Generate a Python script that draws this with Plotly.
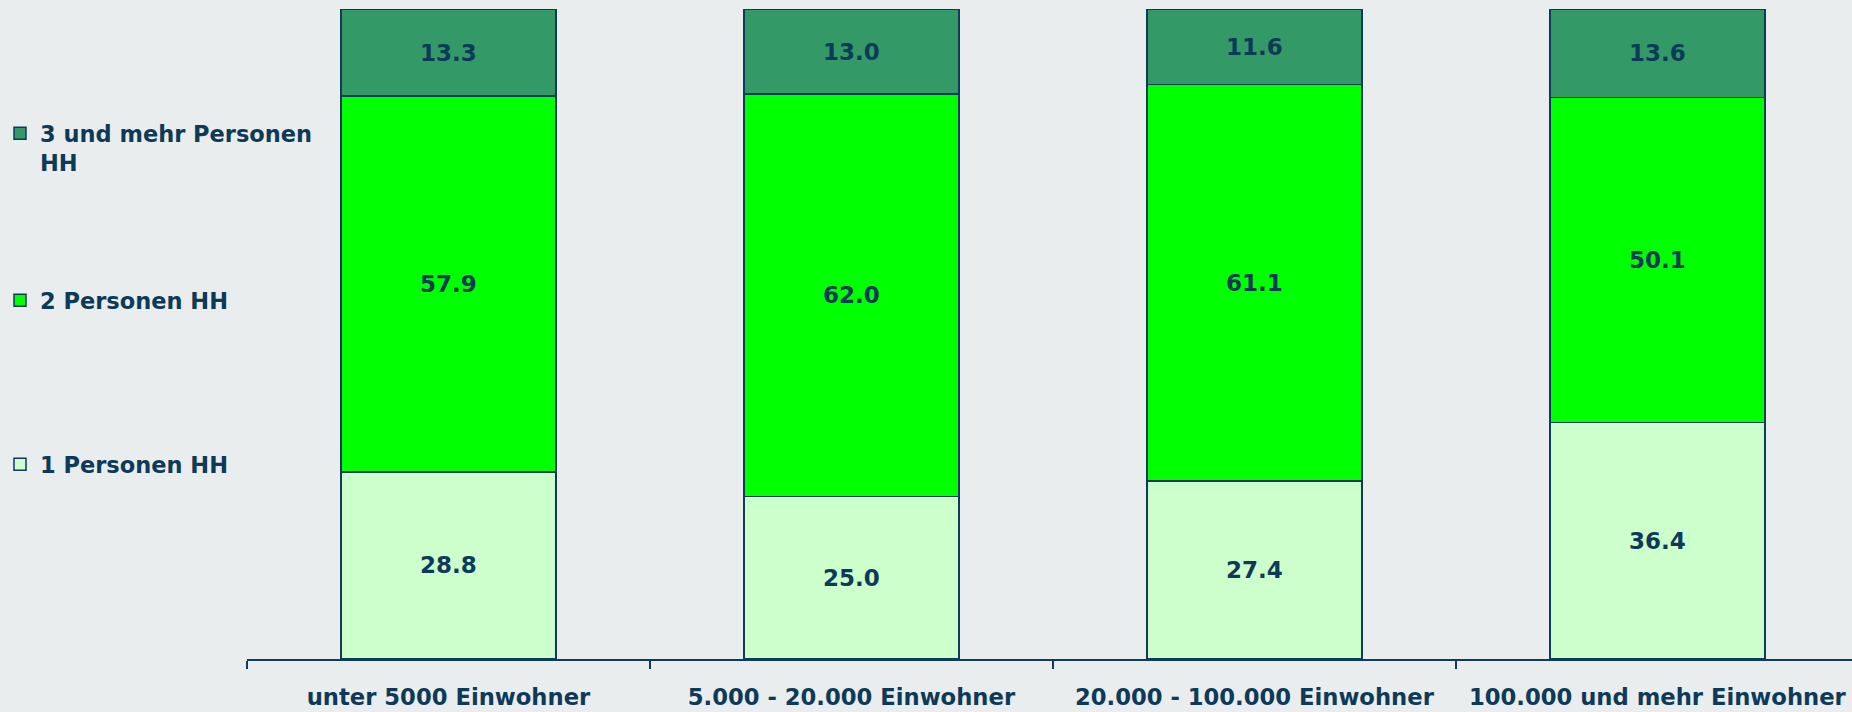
import plotly.graph_objects as go

categories = ["unter 5000 Einwohner", "5.000 - 20.000 Einwohner",
              "20.000 - 100.000 Einwohner", "100.000 und mehr Einwohner"]
one_person = [28.8, 25.0, 27.4, 36.4]
two_person = [57.9, 62.0, 61.1, 50.1]
three_plus = [13.3, 13.0, 11.6, 13.6]

series = [
    ("1 Personen HH", one_person, "#CCFFCC", "legend3"),
    ("2 Personen HH", two_person, "#00FF00", "legend2"),
    ("3 und mehr Personen<br>HH", three_plus, "#339966", "legend"),
]

TEXT = "#0D3A58"
OUTLINE = "#0F3B5A"
BG = "#E9EDEE"
FONT = "DejaVu Sans"

fig = go.Figure()
for name, vals, col, leg in series:
    fig.add_trace(go.Bar(
        x=categories, y=vals, name=name, legend=leg,
        marker=dict(color=col, line=dict(color=OUTLINE, width=1.5)),
        text=[f"{v:.1f}" for v in vals], textposition="inside",
        insidetextanchor="middle", textangle=0,
        textfont=dict(family=FONT, size=23, color=TEXT, weight="bold"),
        width=0.533,
    ))

def legend_at(ytop):
    return dict(
        x=-247/1605, xanchor="left", y=ytop, yanchor="top",
        valign="top",
        font=dict(family=FONT, size=22.5, color=TEXT, weight="bold"),
        bgcolor="rgba(0,0,0,0)", itemwidth=30,
    )

fig.update_layout(
    barmode="stack",
    width=1852, height=712,
    margin=dict(l=247, r=0, t=9, b=53),
    paper_bgcolor=BG, plot_bgcolor=BG,
    font=dict(family=FONT, color=TEXT, size=21),
    showlegend=True,
    legend=legend_at(0.8415),
    legend2=legend_at(0.5846),
    legend3=legend_at(0.3323),
    xaxis=dict(
        type="category", range=[-0.5, 3.483],
        showline=True, linecolor=OUTLINE, linewidth=1.5,
        ticks="outside", tickson="boundaries", ticklen=8,
        tickcolor=OUTLINE, tickwidth=1.5,
        ticklabelstandoff=17,
        tickfont=dict(family=FONT, size=22.7, color=TEXT, weight="bold"),
        showgrid=False, zeroline=False,
    ),
    yaxis=dict(range=[0, 100.1], visible=False, showgrid=False, zeroline=False),
)

fig.write_html("out.html", config={"displayModeBar": False},
               post_script="document.body.style.margin='0';document.body.style.overflow='hidden';")
